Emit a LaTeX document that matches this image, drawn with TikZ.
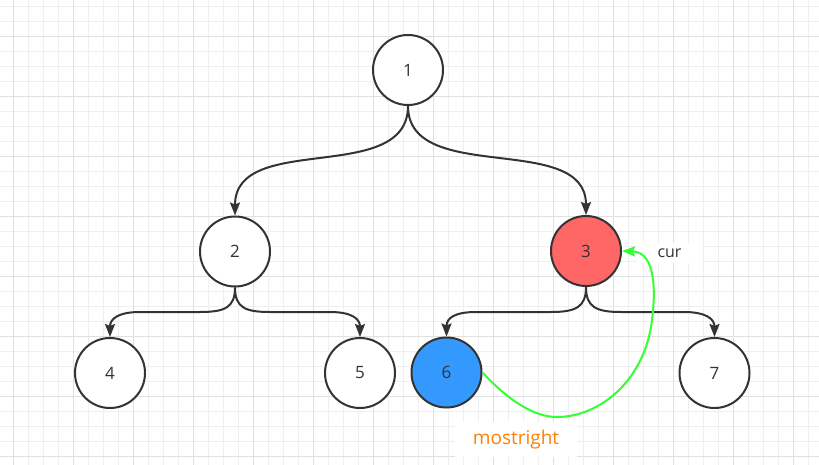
\documentclass[tikz,border=0pt]{standalone}
\usepackage{fontspec}
\setmainfont{Open Sans}
\usetikzlibrary{arrows.meta}
\definecolor{stroke}{HTML}{333333}
\definecolor{redfill}{HTML}{FF6666}
\definecolor{bluefill}{HTML}{3399FF}
\definecolor{grn}{HTML}{33FF33}
\definecolor{orng}{HTML}{FF8000}
\definecolor{gridminor}{HTML}{EFEFEF}
\definecolor{gridmajor}{HTML}{E0E0E0}
\begin{document}
\begin{tikzpicture}[x=1pt,y=-1pt,
  treenode/.style={circle,draw=stroke,line width=2pt,minimum size=70pt,inner sep=0pt,fill=white,text=stroke,font=\fontsize{17}{17}\selectfont},
  edge/.style={draw=stroke,line width=2pt,-{Stealth[length=13pt,width=10pt,inset=2pt]}},
  greenedge/.style={draw=grn,line width=2pt,-{Stealth[length=13pt,width=10pt,inset=2pt]}},
  minorline/.style={draw=gridminor,line width=1pt},
  majorline/.style={draw=gridmajor,line width=1pt},
  labelbox/.style={fill=white,inner sep=0pt}
]
\fill[white] (0,0) rectangle (819,465);
\useasboundingbox (0,0) rectangle (819,465);
% grid
\foreach \i in {0,...,54} \draw[minorline] (13.33+15*\i,0) -- ++(0,465);
\foreach \i in {0,...,30} \draw[minorline] (0,6.67+15*\i) -- ++(819,0);
\foreach \i in {0,...,13} \draw[majorline] (13.33+60*\i,0) -- ++(0,465);
\foreach \i in {0,...,7} \draw[majorline] (0,36.67+60*\i) -- ++(819,0);
% nodes
\node[treenode] (n1) at (408,70) {1};
\node[treenode] (n2) at (235,251.5) {2};
\node[treenode,fill=redfill] (n3) at (586,251) {3};
\node[treenode] (n4) at (110,373) {4};
\node[treenode] (n5) at (360,373) {5};
\node[treenode,fill=bluefill] (n6) at (446.5,372.5) {6};
\node[treenode] (n7) at (714.5,373) {7};
% labels
\node[labelbox,minimum width=65pt,minimum height=20pt,text=stroke,font=\fontsize{16}{16}\selectfont] (cur) at (669.5,253) {cur};
\node[labelbox,minimum width=122pt,minimum height=35pt,text=orng,font=\fontsize{19}{19}\selectfont] (mr) at (516,439.5) {mostright};
% edges
\draw[edge] (n1.south) .. controls (408,186) and (235,131) .. (n2.north);
\draw[edge] (n1.south) .. controls (408,186) and (586,131) .. (n3.north);
\draw[edge] (n2.south) .. controls +(0,20) and +(25,0) .. (200,312) -- (140,312) .. controls +(-22,0) and +(0,-18) .. (n4.north);
\draw[edge] (n2.south) .. controls +(0,20) and +(-25,0) .. (270,312) -- (330,312) .. controls +(22,0) and +(0,-18) .. (n5.north);
\draw[edge] (n3.south) .. controls +(0,20) and +(25,0) .. (551,312) -- (476,312) .. controls +(-22,0) and +(0,-18) .. (n6.north);
\draw[edge] (n3.south) .. controls +(0,20) and +(-25,0) .. (621,312) -- (684,312) .. controls +(22,0) and +(0,-18) .. (n7.north);
\draw[greenedge] (n6.east) .. controls (510,402) and (535,417) .. (557,417) .. controls (600,417) and (645,380) .. (652,320) .. controls (657,280) and (652,252) .. (n3.east);
\end{tikzpicture}
\end{document}
